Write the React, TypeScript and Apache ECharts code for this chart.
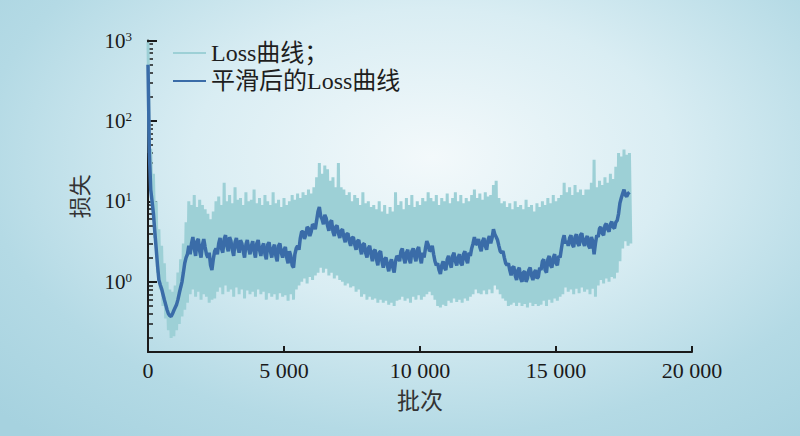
import React, { useEffect, useRef } from "react";
import * as echarts from "echarts";

// batch spacing between successive read-off values
const BATCH_STEP = 100;

// raw loss: local peaks (at i*100) and troughs (at i*100+50)
const rawPeaks = [
  950, 45, 22, 10, 4.5, 2.8, 1.7, 1.0, 0.8, 0.75, 0.9, 1.3, 1.9, 3.0, 5.5, 10,
  9, 12, 8.5, 10.5, 9, 8, 7, 6, 7.5, 10, 11.5, 9, 17, 10, 12, 9.5, 15, 10.5, 11, 9, 13, 10,
  10.5, 14, 9.5, 11, 9, 12, 10, 9, 13, 9.5, 10.5, 8.5, 11, 9, 10,
  12, 10.5, 12.5, 11, 13, 12, 14, 12.5, 15, 20, 30, 22, 28, 25, 18, 20, 15, 30, 15,
  14, 12, 13, 10, 12, 11, 9, 13, 9.5, 10, 8.5,
  9, 8, 10, 7.5, 9, 7, 8.5, 7.5, 13, 9, 10, 8, 11, 9, 12, 8.5, 10, 9, 11, 10, 13, 11,
  10, 12, 9, 11, 10, 12.5, 9.5, 11, 13, 10, 12, 9.5, 11, 10, 12, 14, 11, 12.5, 10.5, 13, 11.5, 12, 16, 18, 11, 9.5,
  10, 8.5, 9.5, 8, 10, 8.5, 9, 8, 10.5, 8.5, 9, 7.5, 9.5, 8.5, 10, 9, 11, 9.5, 12, 10, 11, 12,
  17, 13, 15, 12, 16, 13, 14, 12, 14, 14, 17, 33,
  15, 18, 16, 20, 17, 22, 19, 27, 40, 36, 44, 38, 40,
];
const rawTroughs = [
  40, 9, 3.5, 1.3, 0.8, 0.5, 0.35, 0.25, 0.2, 0.21, 0.25, 0.3, 0.37, 0.45, 0.55, 0.7,
  0.8, 0.65, 0.75, 0.6, 0.7, 0.65, 0.55, 0.6, 0.62, 0.75, 0.85, 0.7, 0.9, 0.75, 0.8, 0.65, 0.85, 0.7, 0.8, 0.62, 0.78, 0.7,
  0.75, 0.65, 0.8, 0.7, 0.75, 0.6, 0.72, 0.65, 0.7, 0.6, 0.72, 0.65, 0.68, 0.58, 0.7,
  0.6, 0.8, 0.9, 1.0, 1.1, 0.95, 1.15, 1.05, 1.2, 1.3, 1.5, 1.3, 1.45, 1.2, 1.3, 1.1, 1.2, 1.05, 1.0,
  0.9, 0.95, 0.85, 0.88, 0.75, 0.8, 0.65, 0.7, 0.6, 0.65, 0.6,
  0.62, 0.55, 0.6, 0.55, 0.58, 0.52, 0.55, 0.5, 0.58, 0.6, 0.65, 0.58, 0.62, 0.55, 0.65, 0.6, 0.68, 0.6, 0.65, 0.7, 0.75, 0.68,
  0.6, 0.5, 0.48, 0.52, 0.5, 0.58, 0.55, 0.62, 0.56, 0.6, 0.55, 0.62, 0.58, 0.65, 0.7, 0.8, 0.72, 0.7, 0.78, 0.7, 0.8, 0.72, 0.9, 0.8, 0.7, 0.62,
  0.58, 0.5, 0.52, 0.55, 0.5, 0.55, 0.5, 0.53, 0.48, 0.55, 0.5, 0.53, 0.5, 0.52, 0.58, 0.5, 0.6, 0.55, 0.62, 0.58, 0.65, 0.7,
  0.85, 0.75, 0.8, 0.7, 0.82, 0.72, 0.85, 0.75, 0.8, 0.7, 0.82, 0.65,
  0.9, 1.05, 0.95, 1.1, 1.0, 1.15, 1.1, 1.3, 1.8, 2.6, 3.2, 2.8, 3.0,
];
// smoothed loss read at i*100
const smoothedLoss = [
  500, 14, 7, 2.6, 1.05, 0.82, 0.6, 0.45, 0.38, 0.4, 0.48, 0.6, 0.85, 1.3, 2.0, 2.8,
  3.0, 2.6, 3.2, 2.4, 2.9, 2.7, 2.0, 1.6, 1.9, 2.6, 3.0, 2.6, 3.4, 2.8, 3.6, 2.5, 3.1, 2.7, 3.3, 2.4, 2.9, 2.6,
  2.8, 2.4, 3.0, 2.5, 2.7, 2.2, 2.9, 2.4, 2.6, 2.1, 2.8, 2.3, 2.5, 2.0, 2.4,
  1.6, 2.2, 2.8, 3.5, 4.2, 3.8, 4.6, 4.2, 5.0, 5.8, 8.5, 6.0, 6.8, 5.0, 5.5, 4.2, 4.8, 4.0,
  4.3, 3.6, 3.9, 3.2, 3.5, 2.9, 3.2, 2.6, 2.9, 2.3, 2.6, 2.2,
  2.4, 1.9, 2.3, 1.8, 1.9, 1.6, 1.7, 1.5, 1.8, 2.0, 2.4, 2.0, 2.3, 1.9, 2.4, 2.1, 2.5, 2.0, 2.3, 2.6, 2.9, 2.5,
  2.2, 1.6, 1.4, 1.6, 1.5, 1.9, 1.7, 2.1, 1.8, 2.0, 1.7, 2.2, 1.9, 2.3, 2.6, 3.6, 3.0, 2.7, 3.2, 2.8, 3.3, 3.0, 4.5, 3.6, 2.8, 2.3,
  2.0, 1.6, 1.4, 1.5, 1.2, 1.4, 1.1, 1.3, 1.0, 1.4, 1.2, 1.3, 1.1, 1.5, 1.8, 1.4, 1.9, 1.6, 2.0, 1.7, 2.1, 2.6,
  3.8, 3.2, 3.5, 2.9, 3.6, 3.0, 3.8, 3.1, 3.4, 2.8, 3.6, 2.2,
  3.8, 4.6, 4.0, 5.0, 4.5, 5.2, 4.8, 5.5, 7.0, 11, 14, 11.5, 13,
];
// smoothed loss read at i*100+50 (the jitter between the readings above)
const smoothedLossMid = [
  40, 10, 4.2, 1.6, 0.92, 0.7, 0.52, 0.4, 0.37, 0.44, 0.52, 0.72, 1.0, 1.7, 2.2,
  2.2, 3.6, 2.1, 3.4, 2.0, 3.4, 2.2, 2.3, 1.4, 2.4, 2.2, 3.5, 2.3, 3.8, 2.4, 3.2, 2.1, 3.5, 2.3, 3.0, 2.0, 3.3, 2.2,
  3.2, 2.0, 3.3, 2.1, 3.0, 1.9, 3.1, 2.0, 2.9, 1.8, 3.0, 2.0, 2.7, 1.7, 2.1,
  1.5, 2.6, 2.5, 4.2, 3.4, 4.8, 3.7, 5.2, 4.5, 7.5, 6.5, 5.2, 6.2, 4.3, 5.8, 3.7, 5.0, 3.5,
  4.5, 3.1, 4.0, 2.8, 3.6, 2.5, 3.3, 2.2, 3.0, 2.0, 2.8, 1.8,
  2.5, 1.6, 2.4, 1.5, 2.0, 1.35, 1.9, 1.3, 2.1, 1.8, 2.6, 1.7, 2.5, 1.7, 2.6, 1.8, 2.7, 1.7, 2.0, 3.2, 2.4, 2.8,
  1.8, 1.7, 1.25, 1.8, 1.4, 2.1, 1.5, 2.3, 1.6, 2.2, 1.6, 2.4, 1.7, 2.1, 3.0, 2.9, 3.4, 2.4, 3.5, 2.5, 3.7, 3.5, 3.9, 3.3, 2.4, 2.4,
  1.7, 1.7, 1.2, 1.55, 1.05, 1.5, 1.0, 1.35, 1.1, 1.5, 1.05, 1.4, 1.15, 1.4, 1.9, 1.3, 2.1, 1.5, 2.2, 1.6, 2.0, 3.3,
  3.0, 2.8, 3.8, 2.7, 3.9, 2.8, 4.0, 2.8, 3.7, 2.6, 3.2, 3.0,
  3.6, 4.8, 3.8, 5.3, 4.2, 5.6, 4.6, 5.8, 9.5, 12.5, 12, 12.5,
];

const xTickValues = [0, 5000, 10000, 15000, 20000];
const yMajorTicks = [1, 10, 100, 1000];
const yMinorMultipliers = [2, 3, 4, 5, 6, 7, 8, 9];
const yMinorDecades = [0.1, 1, 10, 100];

const seriesNames = ["Loss曲线；", "平滑后的Loss曲线"];
const xAxisName = "批次";
const yAxisName = "损失";

const SERIF = '"Liberation Serif", "Noto Sans CJK SC", serif';

function interleave(a: number[], b: number[]) {
  const out: number[][] = [];
  a.forEach((v, i) => {
    out.push([i * BATCH_STEP, v]);
    if (i < b.length) out.push([i * BATCH_STEP + BATCH_STEP / 2, b[i]]);
  });
  return out;
}

export default function App() {
  const ref = useRef<HTMLDivElement>(null);

  useEffect(() => {
    if (!ref.current) return;
    const chart = echarts.init(ref.current, undefined, { renderer: "svg" });

    const rawData = interleave(rawPeaks, rawTroughs);
    const smoothData = interleave(smoothedLoss, smoothedLossMid);
    const yMinorTicks: number[] = [];
    yMinorDecades.forEach((d) => yMinorMultipliers.forEach((m) => yMinorTicks.push(+(m * d).toPrecision(3))));

    const axisLineStyle = { color: "#1a1a1a", width: 2 };

    chart.setOption({
      animation: false,
      backgroundColor: "transparent",
      grid: { left: 148, right: 108, top: 40.5, bottom: 84, containLabel: false },
      legend: {
        orient: "vertical",
        left: 167,
        top: 36,
        itemWidth: 33,
        itemHeight: 20,
        itemGap: 4,
        itemStyle: { opacity: 0 },
        lineStyle: { width: 2 },
        textStyle: { fontFamily: SERIF, fontSize: 24, color: "#1e1e1e" },
        data: seriesNames,
      },
      xAxis: {
        type: "value",
        min: 0,
        max: 20000,
        interval: 5000,
        name: xAxisName,
        nameLocation: "middle",
        nameGap: 38,
        nameTextStyle: { fontFamily: SERIF, fontSize: 23, color: "#333" },
        axisLine: { show: true, lineStyle: axisLineStyle },
        axisTick: { show: true, inside: true, length: 6, lineStyle: axisLineStyle, customValues: xTickValues },
        axisLabel: {
          fontFamily: SERIF,
          fontSize: 22,
          color: "#1a1a1a",
          margin: 7,
          customValues: xTickValues,
          formatter: (v: number) => String(v).replace(/\B(?=(\d{3})+(?!\d))/g, " "),
        },
        splitLine: { show: false },
      },
      yAxis: [
        {
          type: "log",
          logBase: 10,
          min: 0.134,
          max: 1000,
          name: yAxisName,
          nameLocation: "middle",
          nameGap: 57,
          nameTextStyle: { fontFamily: SERIF, fontSize: 22, color: "#333" },
          axisLine: { show: true, lineStyle: axisLineStyle },
          axisTick: { show: true, inside: true, length: 9, lineStyle: axisLineStyle, customValues: yMajorTicks },
          axisLabel: {
            customValues: yMajorTicks,
            margin: 16,
            fontFamily: SERIF,
            fontSize: 21,
            color: "#1a1a1a",
            formatter: (v: number) => `10{sup|${Math.round(Math.log10(v))}}`,
            rich: {
              sup: { fontFamily: SERIF, fontSize: 13, color: "#1a1a1a", verticalAlign: "top", padding: [0, 0, 9, 0] },
            },
          },
          splitLine: { show: false },
        },
        {
          type: "log",
          logBase: 10,
          min: 0.134,
          max: 1000,
          position: "left",
          axisLine: { show: false },
          axisTick: { show: true, inside: true, length: 5, lineStyle: { color: "#1a1a1a", width: 1.5 }, customValues: yMinorTicks },
          axisLabel: { show: false },
          splitLine: { show: false },
        },
      ],
      series: [
        {
          name: seriesNames[0],
          type: "line",
          data: rawData,
          yAxisIndex: 0,
          symbol: "none",
          lineStyle: { color: "#9dd0d6", width: 3 },
          itemStyle: { color: "#9dd0d6" },
          z: 2,
        },
        {
          name: seriesNames[1],
          type: "line",
          data: smoothData,
          yAxisIndex: 0,
          symbol: "none",
          lineStyle: { color: "#3a6ca8", width: 3.5 },
          itemStyle: { color: "#3a6ca8" },
          z: 3,
        },
      ],
    });

    return () => chart.dispose();
  }, []);

  return (
    <div
      style={{
        position: "absolute",
        left: 0,
        top: 0,
        width: 800,
        height: 436,
        background: "radial-gradient(ellipse 75% 85% at 54% 36%, #f3f9fb 0%, #d9edf3 40%, #b4dae5 75%, #a6d2df 100%)",
      }}
    >
      <div ref={ref} style={{ width: 800, height: 436 }} />
    </div>
  );
}
